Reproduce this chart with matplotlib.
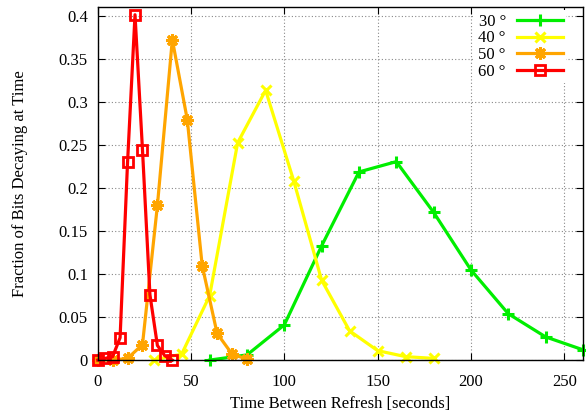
import matplotlib
matplotlib.use("Agg")
import matplotlib.pyplot as plt
from matplotlib.ticker import FuncFormatter, MultipleLocator

# ------------------------------------------------------------------ data
x_30 = [60, 80, 100, 120, 140, 160, 180, 200, 220, 240, 260]
y_30 = [0.0, 0.006, 0.041, 0.133, 0.219, 0.231, 0.172, 0.105, 0.054, 0.027, 0.012]

x_40 = [30, 45, 60, 75, 90, 105, 120, 135, 150, 165, 180]
y_40 = [0.0, 0.007, 0.075, 0.253, 0.314, 0.209, 0.093, 0.034, 0.011, 0.004, 0.002]

x_50 = [0, 8, 16, 24, 32, 40, 48, 56, 64, 72, 80]
y_50 = [0.0, 0.0, 0.002, 0.018, 0.18, 0.373, 0.28, 0.11, 0.031, 0.007, 0.001]

x_60 = [0, 4, 8, 12, 16, 20, 24, 28, 32, 36, 40]
y_60 = [0.0, 0.002, 0.004, 0.026, 0.23, 0.402, 0.245, 0.076, 0.017, 0.005, 0.0]

labels = ["30 °", "40 °", "50 °", "60 °"]

# ------------------------------------------------------------------ style
plt.rcParams["font.family"] = ["Liberation Serif", "DejaVu Serif"]
plt.rcParams["font.size"] = 12

fig = plt.figure(figsize=(5.86, 4.12), dpi=100)
ax = fig.add_axes([0.1667, 0.126, 0.828, 0.857])

lw = 2.3
series = [
    (x_30, y_30, "#00ee00", dict(marker="+", markersize=9, markeredgewidth=2.2)),
    (x_40, y_40, "#ffff00", dict(marker="x", markersize=7.5, markeredgewidth=2.2)),
    (x_50, y_50, "#ffa500", dict(marker=(8, 2, 0), markersize=9, markeredgewidth=2.2)),
    (x_60, y_60, "#ff0000", dict(marker="s", markersize=7.5, markeredgewidth=2.0,
                                 markerfacecolor="none")),
]
for (xs, ys, c, mk), lab in zip(series, labels):
    ax.plot(xs, ys, color=c, linewidth=lw, label=lab, clip_on=False, **mk)

ax.set_xlim(0, 260)
ax.set_ylim(0, 0.411)
ax.xaxis.set_major_locator(MultipleLocator(50))
ax.yaxis.set_major_locator(MultipleLocator(0.05))
ax.yaxis.set_major_formatter(FuncFormatter(lambda v, p: f"{v:g}"))
ax.tick_params(direction="in", top=True, right=True, length=5, width=0.8, pad=7)
ax.tick_params(axis="x", pad=10)
ax.grid(True, linestyle=(0, (1, 2)), color="#888888", linewidth=0.8)
ax.set_axisbelow(True)
for s in ax.spines.values():
    s.set_linewidth(1.0)

ax.set_xlabel("Time Between Refresh [seconds]", labelpad=4)
ax.set_ylabel("Fraction of Bits Decaying at Time", labelpad=22)

leg = ax.legend(loc="upper right", markerfirst=False, frameon=True,
                handlelength=2.75, labelspacing=0.05, borderpad=0.2,
                borderaxespad=0.0, handletextpad=0.65,
                bbox_to_anchor=(0.965, 0.991))
leg.get_frame().set_edgecolor("none")
leg.get_frame().set_facecolor("white")
leg.get_frame().set_alpha(1.0)
leg.get_frame().set_boxstyle("square", pad=0.0)

fig.savefig("out.png", dpi=100)
